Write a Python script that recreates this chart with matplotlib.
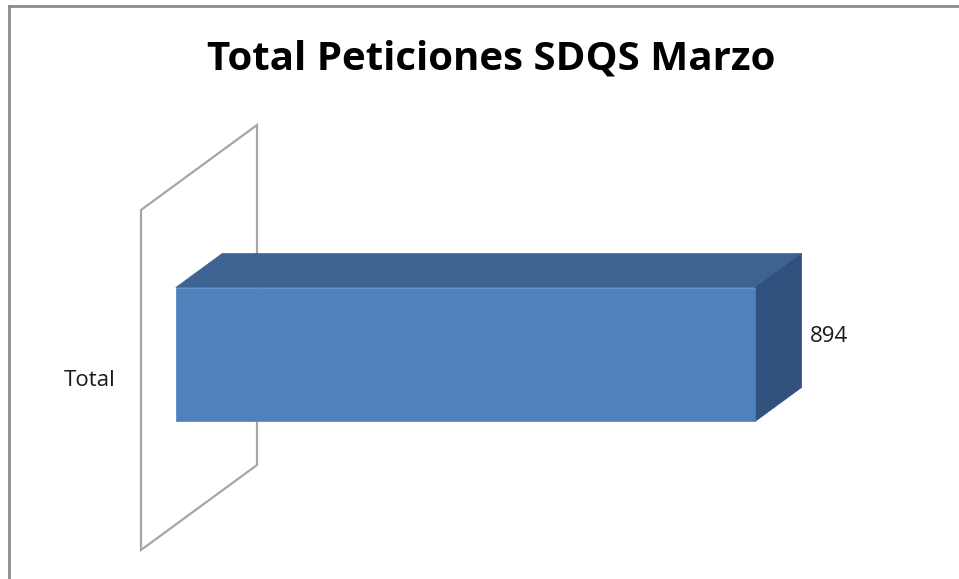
import matplotlib
matplotlib.use("Agg")
import matplotlib.pyplot as plt
from matplotlib.patches import Polygon

# ---------------------------------------------------------------------------
# Data
# ---------------------------------------------------------------------------
categories = ["Total"]
values = [894]
title = "Total Peticiones SDQS Marzo"
x_max = 1000

FONT = ["Open Sans", "DejaVu Sans"]
FRONT = "#4f81bd"
TOP = "#3c6391"
SIDE = "#30507e"
WALL = "#a6a6a6"

W, H = 959, 579
fig = plt.figure(figsize=(W / 100, H / 100), dpi=100)

# axes = category band at depth 0 (pixels: x 141..789, y 210..550)
ax_px = (141, 210, 789, 550)
ax = fig.add_axes([ax_px[0] / W, 1 - ax_px[3] / H,
                   (ax_px[2] - ax_px[0]) / W, (ax_px[3] - ax_px[1]) / H])
ax.set_xlim(0, x_max)
ax.set_ylim(0, len(categories))
ax.axis("off")

# oblique depth vector (pixels for full depth), converted to data units
DEPTH_PX = (116, 85)
ddx = DEPTH_PX[0] * x_max / (ax_px[2] - ax_px[0])
ddy = DEPTH_PX[1] * len(categories) / (ax_px[3] - ax_px[1])


def p(v, y, d):
    return (v + d * ddx, y + d * ddy)


# back wall (category axis plane)
n = len(categories)
wall = Polygon([p(0, 0, 0), p(0, n, 0), p(0, n, 1), p(0, 0, 1)],
               closed=True, facecolor="white", edgecolor=WALL, lw=1.6,
               zorder=1, clip_on=False)
ax.add_patch(wall)

bar_h = 0.394
d0, d1 = 0.3, 0.7
for i, (cat, val) in enumerate(zip(categories, values)):
    y0 = i + 0.5 - bar_h / 2
    y1 = i + 0.5 + bar_h / 2
    top = [p(0, y1, d0), p(val, y1, d0), p(val, y1, d1), p(0, y1, d1)]
    side = [p(val, y0, d0), p(val, y1, d0), p(val, y1, d1), p(val, y0, d1)]
    front = [p(0, y0, d0), p(val, y0, d0), p(val, y1, d0), p(0, y1, d0)]
    for pts, c in ((top, TOP), (side, SIDE), (front, FRONT)):
        ax.add_patch(Polygon(pts, closed=True, facecolor=c, edgecolor=c,
                             lw=0.5, zorder=3, clip_on=False))
    lx, ly = p(val, i + 0.5, (d0 + d1) / 2)
    ax.annotate(str(val), (lx, ly), xytext=(23, 1), textcoords="offset points",
                ha="left", va="center", fontsize=16, family=FONT,
                color="#1a1a1a")
    ax.annotate(cat, (0, i + 0.5), xytext=(-18, 0), textcoords="offset points",
                ha="right", va="center", fontsize=16, family=FONT,
                color="#1a1a1a")

fig.text(491 / W, 1 - 59 / H, title, ha="center", va="center",
         fontsize=29, fontweight="bold", family=FONT, color="black")

# chart frame (top and left edges visible)
fig.add_artist(plt.Line2D([9 / W, 1], [1 - 6 / H, 1 - 6 / H],
                          transform=fig.transFigure, color="#8c8c8c", lw=2))
fig.add_artist(plt.Line2D([9 / W, 9 / W], [0, 1 - 6 / H],
                          transform=fig.transFigure, color="#8c8c8c", lw=2))

fig.savefig("out.png", dpi=100)
